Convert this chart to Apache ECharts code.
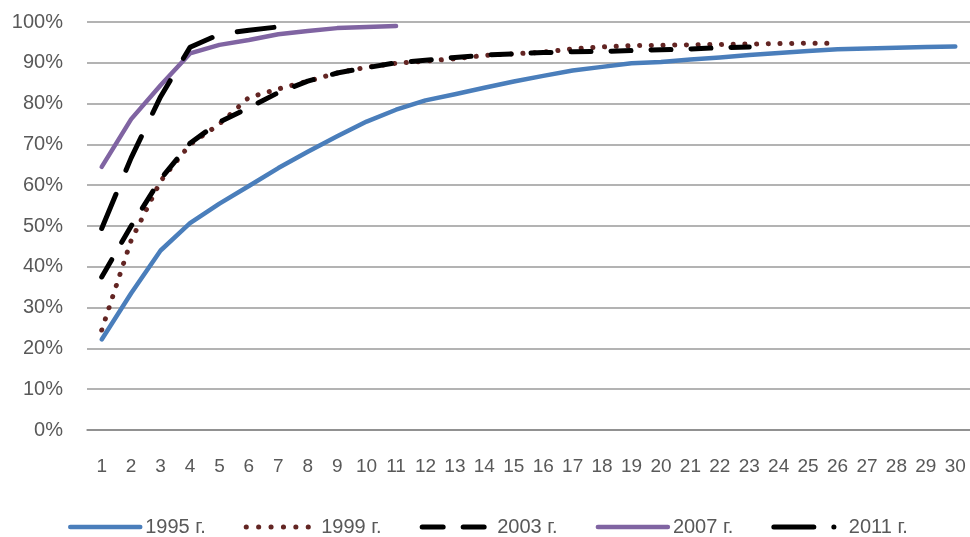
<!DOCTYPE html>
<html><head><meta charset="utf-8">
<script src="https://cdn.jsdelivr.net/npm/echarts@6/dist/echarts.min.js"></script>
<style>html,body{margin:0;padding:0;background:#fff}#c{width:970px;height:537px}</style>
</head><body><div id="c"></div>
<script>
const categories = ['1','2','3','4','5','6','7','8','9','10','11','12','13','14','15','16','17','18','19','20','21','22','23','24','25','26','27','28','29','30'];
const yTicks = [0,10,20,30,40,50,60,70,80,90,100];
const s1995 = [22.2,33.5,44.0,50.7,55.5,59.8,64.2,68.2,72.0,75.6,78.5,80.8,82.3,83.9,85.4,86.8,88.1,89.0,89.9,90.2,90.8,91.3,91.9,92.4,92.9,93.3,93.5,93.7,93.9,94.0];
const s1999 = [24.5,46.5,61.0,70.0,75.0,81.5,83.6,85.5,87.5,88.9,89.9,90.4,91.0,91.8,92.2,92.6,93.4,93.9,94.2,94.3,94.4,94.5,94.6,94.7,94.8,94.8];
const s2003 = [37.5,50.0,61.5,70.3,75.5,79.0,82.7,85.5,87.5,88.8,90.0,90.6,91.3,91.9,92.2,92.5,92.7,92.8,93.0,93.2,93.4,93.7,93.9];
const s2007 = [64.5,76.2,84.5,92.3,94.4,95.6,97.0,97.8,98.5,98.8,99.0];
const s2011 = [49.4,66.7,81.7,93.8,97.0,98.0,98.8];
const seriesNames = ['1995 г.','1999 г.','2003 г.','2007 г.','2011 г.'];

const FONT = "'Liberation Sans',Arial,Helvetica,sans-serif";
const COLORS = ['#4A7EBB','#632523','#000000','#8064A2','#000000'];
const chart = echarts.init(document.getElementById('c'), null, {renderer:'canvas'});
function line(name, data, color, width, type) {
  return {name, type:'line', data, symbol:'none', smooth:false, animation:false,
    lineStyle:{color, width, type, cap:'round', join:'round'}, itemStyle:{color}};
}
chart.setOption({
  animation:false,
  grid:{left:87, right:0, top:22, bottom:107},
  xAxis:{type:'category', data:categories, boundaryGap:true,
    axisLine:{show:true, lineStyle:{color:'#868686', width:1.5}},
    axisTick:{show:false},
    axisLabel:{color:'#595959', fontSize:19, fontFamily:FONT, margin:27, interval:0}},
  yAxis:{type:'value', min:yTicks[0], max:yTicks[yTicks.length-1], interval:10,
    axisLine:{show:false}, axisTick:{show:false},
    splitLine:{lineStyle:{color:'#9a9a9a', width:1.5}},
    axisLabel:{color:'#595959', fontSize:20, fontFamily:FONT, margin:24, formatter:'{value}%'}},
  legend:{left:63, top:512, itemWidth:70, itemHeight:14, itemGap:38,
    itemStyle:{opacity:0},
    textStyle:{color:'#595959', fontSize:20, fontFamily:FONT},
    data:[
      {name:seriesNames[0], lineStyle:{width:4.5, cap:'round', type:'solid'}},
      {name:seriesNames[1], lineStyle:{width:5, cap:'round', type:[0.1, 12.3]}},
      {name:seriesNames[2], lineStyle:{width:5, cap:'round', type:[21, 20]}},
      {name:seriesNames[3], lineStyle:{width:4.5, cap:'round', type:'solid'}},
      {name:seriesNames[4], lineStyle:{width:5, cap:'round', type:[40, 20, 0.1, 30]}}
    ]},
  series:[
    line(seriesNames[0], s1995, COLORS[0], 4.5, 'solid'),
    line(seriesNames[1], s1999, COLORS[1], 5, [0.1, 11.6]),
    line(seriesNames[2], s2003, COLORS[2], 5, [20, 20]),
    line(seriesNames[3], s2007, COLORS[3], 4.5, 'solid'),
    line(seriesNames[4], s2011, COLORS[4], 5, [37, 26])
  ]
});
</script></body></html>
